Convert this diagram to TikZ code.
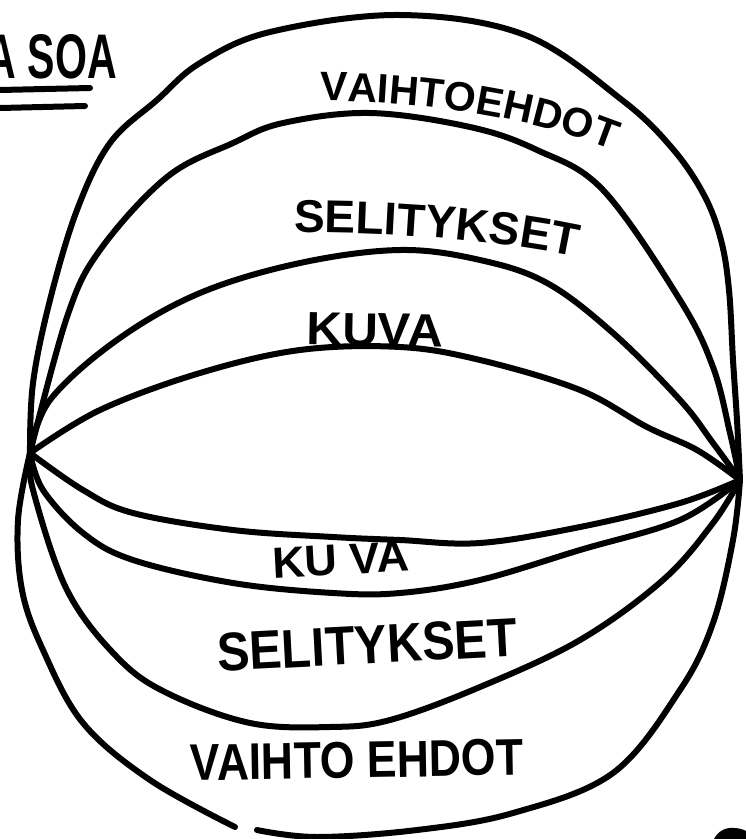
\documentclass[tikz,border=0pt]{standalone}
\usepackage{fontspec}
\setmainfont{Liberation Sans}
\usepackage{graphicx}
\usetikzlibrary{decorations.text}
\tikzset{
  pen/.style={line width=6pt, line cap=round, line join=round},
  lab/.style={inner sep=0pt, font=\bfseries},
}
\newcommand{\fittext}[3]{\resizebox{#1pt}{#2pt}{#3}}
\begin{document}
\begin{tikzpicture}[x=1pt,y=-1pt]
\useasboundingbox (0,0) rectangle (746,839);
\coordinate (L) at (30,453);
\coordinate (R) at (740,480);
% top outer arc
\draw[pen] plot[smooth, tension=0.6] coordinates {(L) (33,383) (50,300) (77,210) (110,143) (157,100) (200,63) (270,32) (400,15) (525,35) (622,100) (672,148) (704,195) (721,240) (729,290) (733,360) (737,420) (R)};
% second arc
\draw[pen] plot[smooth, tension=0.6] coordinates {(L) (67,317) (100,250) (167,177) (233,143) (283,123) (370,113) (470,127) (537,150) (603,190) (680,300) (713,367) (730,433) (R)};
% third arc
\draw[pen] plot[smooth, tension=0.6] coordinates {(L) (50,400) (117,340) (200,293) (300,263) (400,250) (480,260) (547,283) (613,333) (680,400) (713,443) (R)};
% fourth arc
\draw[pen] plot[smooth, tension=0.6] coordinates {(L) (100,410) (200,373) (300,350) (400,347) (480,360) (580,390) (647,427) (697,450) (R)};
% fifth arc
\draw[pen] plot[smooth, tension=0.6] coordinates {(L) (83,490) (133,513) (233,530) (333,537) (400,540) (480,543) (580,527) (680,503) (R)};
% sixth arc
\draw[pen] plot[smooth, tension=0.6] coordinates {(L) (43,490) (83,533) (133,560) (233,583) (333,593) (400,593) (480,580) (580,550) (680,520) (R)};
% seventh arc
\draw[pen] plot[smooth, tension=0.6] coordinates {(L) (33,490) (67,590) (117,657) (167,693) (250,723) (330,727) (390,720) (480,687) (580,640) (663,580) (713,523) (R)};
% outer bottom arc, two pieces
\coordinate (gapA) at (235,827);
\coordinate (gapB) at (257,830);
\draw[pen] plot[smooth, tension=0.6] coordinates {(L) (18,520) (22,590) (43,650) (83,723) (150,780) (gapA)};
\draw[pen] plot[smooth, tension=0.6] coordinates {(gapB) (317,837) (417,830) (513,813) (613,773) (680,690) (713,623) (733,540) (R)};
% title with underlines
\node[lab, anchor=east] (title) at (117,57) {\fittext{130}{44}{A SOA}};
\coordinate (u1a) at (0,90);
\coordinate (u1b) at (90,88);
\coordinate (u2a) at (0,108);
\coordinate (u2b) at (85,106);
\draw[pen] (u1a) -- (u1b);
\draw[pen] (u2a) -- (u2b);
% curved labels at the top
\path[decorate, decoration={text along path, text align=left,
  text={|\bfseries\fontsize{41}{41}\selectfont|VAIHTOEHDOT}}]
  (320,101) .. controls (430,100) and (560,122) .. (642,163);
\path[decorate, decoration={text along path, text align=center,
  text={|\bfseries\fontsize{46}{46}\selectfont|SELITYKSET}}]
  (286,233) .. controls (380,231) and (500,240) .. (584,259);
% straight labels
\node[lab, rotate=-1] (t3) at (375,330) {\fittext{136}{32}{KUVA}};
\node[lab, rotate=3] (b3) at (341,560) {\fittext{137}{30}{KU VA}};
\node[lab, rotate=3] (b2) at (367,645) {\fittext{300}{38}{SELITYKSET}};
\node[lab, rotate=1] (b1) at (357,760) {\fittext{333}{36}{VAIHTO EHDOT}};
% cut-off mark at lower right
\fill (714,839) .. controls (718,831) and (726,827) .. (734,828)
  .. controls (740,828) and (744,830) .. (746,831) -- (746,839) -- cycle;
\end{tikzpicture}
\end{document}
